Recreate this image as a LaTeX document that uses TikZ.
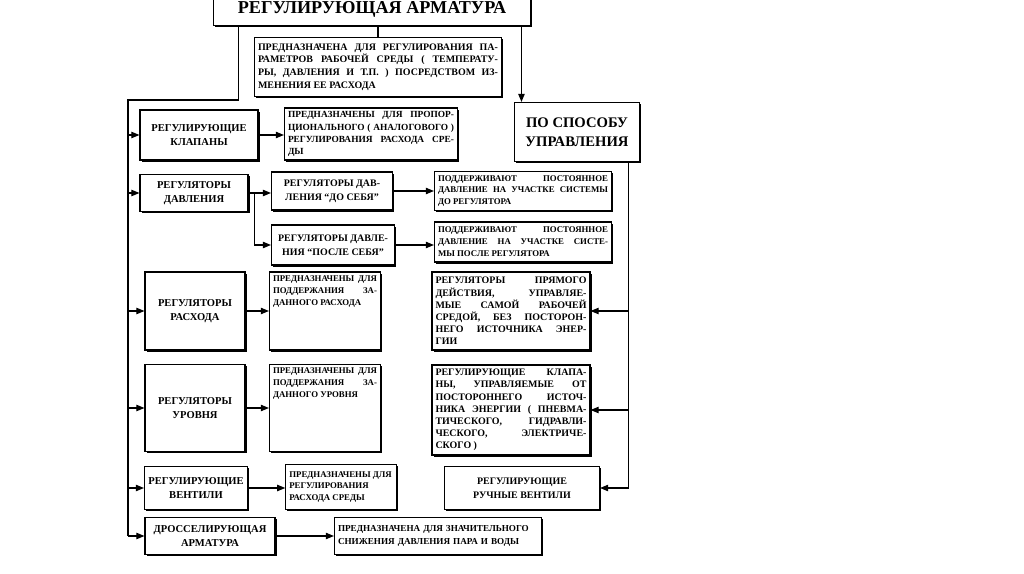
\documentclass[tikz,border=0pt]{standalone}
\usepackage{fontspec}
\setmainfont{Liberation Serif}
\usetikzlibrary{arrows.meta,shadows,calc}
\tikzset{
  box/.style={draw, line width=0.9pt, fill=white, inner sep=3pt, align=center,
    drop shadow={shadow xshift=1.3pt, shadow yshift=-1.3pt, opacity=1, fill=black},
    font=\bfseries\fontsize{9}{12.5}\selectfont},
  note/.style={box, align=justify, font=\bfseries\fontsize{7.5}{10.2}\selectfont},
  arr/.style={line width=1pt, -{Triangle[length=7pt,width=5.5pt]}},
  line/.style={line width=1pt}
}
\begin{document}
\begin{tikzpicture}[x=0.3mm, y=-0.3mm]
\path[use as bounding box, fill=white] (0,0) rectangle (1024,574);

% top
\node[box, minimum width=9.5cm, minimum height=1.0cm,
  font=\bfseries\fontsize{15.5}{17}\selectfont] (title) at (372,9) {РЕГУЛИРУЮЩАЯ АРМАТУРА};
\node[note, text width=7.2cm, minimum height=1.77cm,
  font=\bfseries\fontsize{8.5}{10.8}\selectfont] (purp) at (378,67)
  {ПРЕДНАЗНАЧЕНА ДЛЯ РЕГУЛИРОВАНИЯ ПА-\linebreak РАМЕТРОВ РАБОЧЕЙ СРЕДЫ ( ТЕМПЕРАТУ-\linebreak
   РЫ, ДАВЛЕНИЯ И Т.П. ) ПОСРЕДСТВОМ ИЗ-\linebreak МЕНЕНИЯ ЕЕ РАСХОДА};
\node[box, minimum width=3.75cm, minimum height=1.77cm,
  font=\bfseries\fontsize{12.5}{16}\selectfont] (sposob) at (577,132) {ПО СПОСОБУ\\УПРАВЛЕНИЯ};

% left column
\node[box, minimum width=3.54cm, minimum height=1.5cm] (klap) at (199,135) {РЕГУЛИРУЮЩИЕ\\КЛАПАНЫ};
\node[box, minimum width=3.24cm, minimum height=1.11cm] (davl) at (194,193) {РЕГУЛЯТОРЫ\\ДАВЛЕНИЯ};
\node[box, minimum width=3.0cm, minimum height=2.34cm] (raskh) at (195,311) {РЕГУЛЯТОРЫ\\РАСХОДА};
\node[box, minimum width=3.0cm, minimum height=2.61cm] (urov) at (195,408) {РЕГУЛЯТОРЫ\\УРОВНЯ};
\node[box, minimum width=3.09cm, minimum height=1.29cm] (vent) at (196,488) {РЕГУЛИРУЮЩИЕ\\ВЕНТИЛИ};
\node[box, minimum width=3.9cm, minimum height=1.11cm] (dros) at (210,536) {ДРОССЕЛИРУЮЩАЯ\\АРМАТУРА};

% middle column
\node[note, text width=4.98cm, minimum height=1.56cm,
  font=\bfseries\fontsize{8}{10.4}\selectfont] (klapD) at (371,134)
  {ПРЕДНАЗНАЧЕНЫ ДЛЯ ПРОПОР-\linebreak ЦИОНАЛЬНОГО ( АНАЛОГОВОГО )\linebreak
   РЕГУЛИРОВАНИЯ РАСХОДА СРЕ-\linebreak ДЫ};
\node[box, minimum width=3.63cm, minimum height=1.14cm,
  font=\bfseries\fontsize{8.5}{12}\selectfont] (doseb) at (332,191) {РЕГУЛЯТОРЫ ДАВ-\\ЛЕНИЯ “ДО СЕБЯ”};
\node[box, minimum width=3.69cm, minimum height=1.2cm,
  font=\bfseries\fontsize{8.5}{12}\selectfont] (posle) at (333,245) {РЕГУЛЯТОРЫ ДАВЛЕ-\\НИЯ “ПОСЛЕ СЕБЯ”};
\node[note] (raskhD) at (325,311)
  {\parbox[t][2.13cm][t]{3.12cm}{ПРЕДНАЗНАЧЕНЫ ДЛЯ\linebreak ПОДДЕРЖАНИЯ ЗА-\linebreak ДАННОГО РАСХОДА}};
\node[note] (urovD) at (325,408)
  {\parbox[t][2.4cm][t]{3.12cm}{ПРЕДНАЗНАЧЕНЫ ДЛЯ\linebreak ПОДДЕРЖАНИЯ ЗА-\linebreak ДАННОГО УРОВНЯ}};
\node[note, text width=3.1cm, minimum height=1.35cm] (ventD) at (341,487)
  {ПРЕДНАЗНАЧЕНЫ ДЛЯ\\РЕГУЛИРОВАНИЯ\\РАСХОДА СРЕДЫ};
\node[note, align=left, text width=6.0cm, minimum height=1.11cm,
  font=\bfseries\fontsize{7.8}{10.5}\selectfont] (drosD) at (438,536)
  {ПРЕДНАЗНАЧЕНА ДЛЯ ЗНАЧИТЕЛЬНОГО\\СНИЖЕНИЯ ДАВЛЕНИЯ ПАРА И ВОДЫ};

% right column
\node[note, text width=5.1cm, minimum height=1.14cm] (dosebD) at (523,191)
  {ПОДДЕРЖИВАЮТ ПОСТОЯННОЕ\linebreak ДАВЛЕНИЕ НА УЧАСТКЕ СИСТЕМЫ\linebreak ДО РЕГУЛЯТОРА};
\node[note, text width=5.1cm, minimum height=1.2cm] (posleD) at (523,242)
  {ПОДДЕРЖИВАЮТ ПОСТОЯННОЕ\linebreak ДАВЛЕНИЕ НА УЧАСТКЕ СИСТЕ-\linebreak МЫ ПОСЛЕ РЕГУЛЯТОРА};
\node[note, text width=4.53cm, minimum height=2.34cm,
  font=\bfseries\fontsize{8.5}{10.4}\selectfont] (pryam) at (511,311)
  {РЕГУЛЯТОРЫ ПРЯМОГО\linebreak ДЕЙСТВИЯ, УПРАВЛЯЕ-\linebreak МЫЕ САМОЙ РАБОЧЕЙ\linebreak
   СРЕДОЙ, БЕЗ ПОСТОРОН-\linebreak НЕГО ИСТОЧНИКА ЭНЕР-\linebreak ГИИ};
\node[note, text width=4.53cm, minimum height=2.7cm,
  font=\bfseries\fontsize{8.5}{10.4}\selectfont] (storon) at (511,410)
  {РЕГУЛИРУЮЩИЕ КЛАПА-\linebreak НЫ, УПРАВЛЯЕМЫЕ ОТ\linebreak ПОСТОРОННЕГО ИСТОЧ-\linebreak
   НИКА ЭНЕРГИИ ( ПНЕВМА-\linebreak ТИЧЕСКОГО, ГИДРАВЛИ-\linebreak ЧЕСКОГО, ЭЛЕКТРИЧЕ-\linebreak СКОГО )};
\node[box, minimum width=4.65cm, minimum height=1.29cm,
  font=\bfseries\fontsize{8.5}{12}\selectfont] (ruchn) at (522,488) {РЕГУЛИРУЮЩИЕ\\РУЧНЫЕ ВЕНТИЛИ};

% connectors
\coordinate (tl) at ([xshift=0.75cm]title.south west);
\coordinate (trunkL) at (128,100);
\draw[line] (tl) |- (trunkL) -- (trunkL |- dros.west);
\foreach \n in {klap,davl,raskh,urov,vent,dros}
  \draw[arr] (trunkL |- \n.west) -- (\n.west);
\draw[line] (purp.north |- title.south) -- (purp.north);

\coordinate (sin) at ([xshift=0.225cm]sposob.north west);
\draw[arr] (title.south -| sin) -- (sin);
\coordinate (trunkR) at ([xshift=-0.345cm]sposob.south east);
\draw[arr] (trunkR) |- (ruchn.east);
\draw[arr] (trunkR |- pryam.east) -- (pryam.east);
\draw[arr] (trunkR |- storon.east) -- (storon.east);

\foreach \a/\b in {klap/klapD, davl/doseb, doseb/dosebD, posle/posleD,
                   raskh/raskhD, urov/urovD, vent/ventD, dros/drosD}
  \draw[arr] (\a.east) -- (\a.east -| \b.west);
\coordinate (br) at ($(davl.east)!0.25!(davl.east -| doseb.west)$);
\draw[arr] (br) |- (posle.west);
\end{tikzpicture}
\end{document}
